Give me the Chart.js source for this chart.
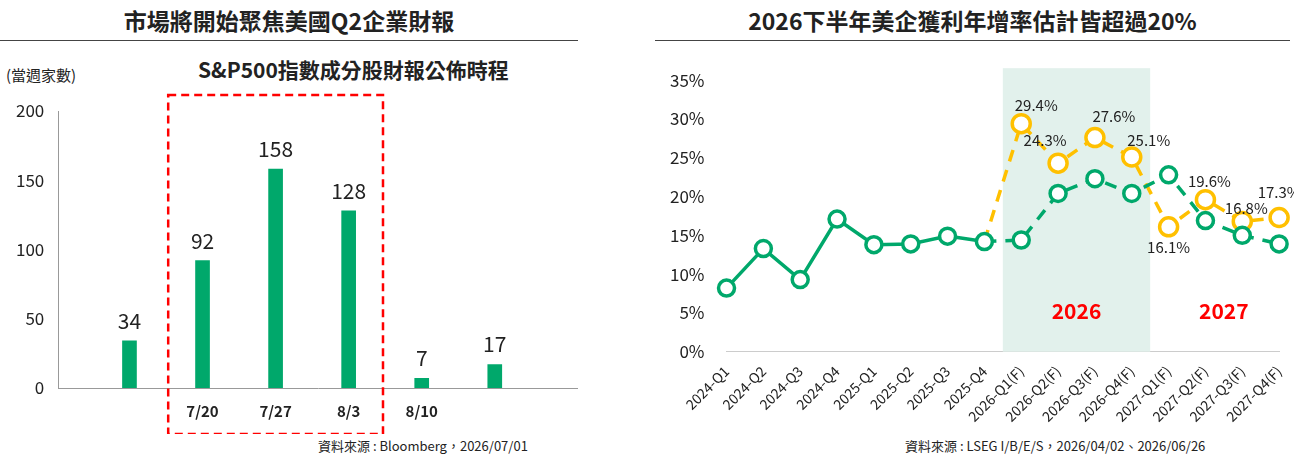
<!DOCTYPE html>
<html><head><meta charset="utf-8">
<script src="https://cdn.jsdelivr.net/npm/chart.js@4"></script>
<style>
body{margin:0;width:1294px;height:458px;background:#fff;font-family:"Noto Sans CJK TC","Noto Sans",sans-serif;position:relative;overflow:hidden}
.t{position:absolute;font-size:23px;font-weight:bold;color:#222;text-align:center}
.hr{position:absolute;height:1px;background:#444}
.s{position:absolute;font-size:13px;color:#222}
canvas{position:absolute}
</style></head><body>
<div class="t" style="left:0;width:578px;top:3px">市場將開始聚焦美國Q2企業財報</div>
<div class="hr" style="left:0;width:578px;top:40px"></div>
<div class="t" style="left:655px;width:635px;top:3px">2026下半年美企獲利年增率估計皆超過20%</div>
<div class="hr" style="left:655px;width:635px;top:40px"></div>
<div class="s" style="left:6px;top:64px;font-size:15px">(當週家數)</div>
<div class="s" style="left:198px;top:54px;font-size:21px;font-weight:bold">S&amp;P500指數成分股財報公佈時程</div>
<div class="s" style="left:318px;top:436px">資料來源 : Bloomberg，2026/07/01</div>
<div class="s" style="left:905px;top:436px">資料來源 : LSEG I/B/E/S，2026/04/02、2026/06/26</div>
<div style="position:absolute;left:0;top:84px;width:578px;height:350px"><canvas id="c1"></canvas></div>
<div style="position:absolute;left:640px;top:56px;width:654px;height:380px"><canvas id="c2"></canvas></div>
<script>
// ─── DATA ─────────────────────────────────────────────────────────────
const weeks = ['7/13', '7/20', '7/27', '8/3', '8/10', '8/17'];
const counts = [34, 92, 158, 128, 7, 17];

const quarters = ['2024-Q1','2024-Q2','2024-Q3','2024-Q4','2025-Q1','2025-Q2','2025-Q3','2025-Q4',
  '2026-Q1(F)','2026-Q2(F)','2026-Q3(F)','2026-Q4(F)','2027-Q1(F)','2027-Q2(F)','2027-Q3(F)','2027-Q4(F)'];
const growthOld = [8.2, 13.3, 9.3, 17.1, 13.8, 13.9, 14.9, 14.2, 14.4, 20.4, 22.3, 20.4, 22.8, 16.9, 15.0, 13.9];
const growthNew = [null, null, null, null, null, null, null, 14.2, 29.4, 24.3, 27.6, 25.1, 16.1, 19.6, 16.8, 17.3];
const labelDx = [0, 0, 0, 0, 0, 0, 0, 0, 15, -13, 19, 17, 0, 4, 4, 0];
const labelDy = [0, 0, 0, 0, 0, 0, 0, 0, -18, -23, -21, -17, 20, -18, -13, -25];

const GREEN = '#00A86B', GOLD = '#FFC000';
const font = { family: '"Noto Sans CJK TC","Noto Sans",sans-serif' };

// ─── LEFT: BAR CHART ─────────────────────────────────────────────────
const barExtras = {
  id: 'barExtras',
  afterDatasetsDraw(chart) {
    const { ctx, chartArea: a, scales: { x } } = chart;
    const meta = chart.getDatasetMeta(0);
    ctx.save();
    ctx.fillStyle = '#222';
    ctx.font = '21px ' + font.family;
    ctx.textAlign = 'center';
    meta.data.forEach((b, i) => ctx.fillText(counts[i], b.x, b.y - 12));
    // red dashed box around the busy weeks
    const step = x.getPixelForValue(1) - x.getPixelForValue(0);
    const l = x.getPixelForValue(1) - step * 0.47, r = x.getPixelForValue(3) + step * 0.47;
    const top = a.top - 16, bot = a.bottom + 46;
    ctx.strokeStyle = '#FF0000';
    ctx.lineWidth = 2.5;
    ctx.setLineDash([8, 5]);
    ctx.strokeRect(l, top, r - l, bot - top);
    ctx.restore();
  }
};

new Chart(document.getElementById('c1'), {
  type: 'bar',
  data: { datasets: [{ data: counts.map((v, i) => ({ x: i, y: v })), backgroundColor: GREEN, barThickness: 14 }] },
  options: {
    responsive: true, maintainAspectRatio: false, animation: false,
    layout: { padding: { top: 27, right: 0, left: 10, bottom: 8 } },
    plugins: { legend: { display: false }, tooltip: { enabled: false } },
    scales: {
      x: { type: 'linear', min: -0.085, max: 5.25, grid: { display: false }, border: { color: '#999' },
           ticks: { stepSize: 1, autoSkip: false, callback: v => weeks[v], color: '#222',
                    font: { ...font, size: 15, weight: 'bold' }, padding: 6 } },
      y: { min: 0, max: 200, ticks: { stepSize: 50, color: '#222', font: { ...font, size: 17 }, padding: 6 },
           grid: { display: false }, border: { color: '#999' } }
    }
  },
  plugins: [barExtras]
});

// ─── RIGHT: LINE CHART ───────────────────────────────────────────────
const lineExtras = {
  id: 'lineExtras',
  beforeDatasetsDraw(chart) {
    const { ctx, chartArea: a, scales: { x } } = chart;
    const step = x.getPixelForValue(1) - x.getPixelForValue(0);
    const l = x.getPixelForValue(8) - step / 2, r = x.getPixelForValue(11) + step / 2;
    ctx.save();
    ctx.fillStyle = '#E2F1EC';
    ctx.fillRect(l, a.top - 12, r - l, a.bottom - a.top + 12);
    ctx.fillStyle = '#FF0000';
    ctx.font = 'bold 21px ' + font.family;
    ctx.textAlign = 'center';
    ctx.textBaseline = 'middle';
    const yy = chart.scales.y.getPixelForValue(5.3);
    ctx.fillText('2026', (l + r) / 2, yy);
    ctx.fillText('2027', (x.getPixelForValue(12) + x.getPixelForValue(15)) / 2, yy);
    ctx.restore();
  },
  afterDatasetsDraw(chart) {
    const { ctx } = chart;
    const meta = chart.getDatasetMeta(1);
    ctx.save();
    ctx.fillStyle = '#222';
    ctx.font = '15px ' + font.family;
    ctx.textAlign = 'center';
    ctx.textBaseline = 'middle';
    meta.data.forEach((p, i) => {
      if (growthNew[i] == null || i < 8) return;
      ctx.fillText(growthNew[i].toFixed(1) + '%', p.x + labelDx[i], p.y + labelDy[i]);
    });
    ctx.restore();
  }
};

new Chart(document.getElementById('c2'), {
  type: 'line',
  data: {
    labels: quarters,
    datasets: [
      { data: growthOld, borderColor: GREEN, borderWidth: 3.5, pointRadius: 8, pointBorderWidth: 3.5,
        pointBackgroundColor: '#fff', pointBorderColor: GREEN,
        segment: { borderDash: c => c.p0DataIndex >= 7 ? [12, 9] : undefined } },
      { data: growthNew, borderColor: GOLD, borderWidth: 3.5, borderDash: [12, 9],
        pointRadius: c => c.dataIndex === 7 ? 0 : 9, pointBorderWidth: 3.5,
        pointBackgroundColor: '#fff', pointBorderColor: GOLD }
    ]
  },
  options: {
    responsive: true, maintainAspectRatio: false, animation: false,
    layout: { padding: { top: 14, right: 12, left: 16, bottom: 8 } },
    plugins: { legend: { display: false }, tooltip: { enabled: false } },
    scales: {
      x: { grid: { display: false }, border: { color: '#ccc' },
           ticks: { color: '#222', font: { ...font, size: 14 }, maxRotation: 45, minRotation: 45 } },
      y: { min: 0, max: 35, grid: { display: false }, border: { display: false },
           ticks: { stepSize: 5, color: '#222', font: { ...font, size: 17 }, padding: 14, callback: v => v + '%' } }
    }
  },
  plugins: [lineExtras]
});
</script>
</body></html>
